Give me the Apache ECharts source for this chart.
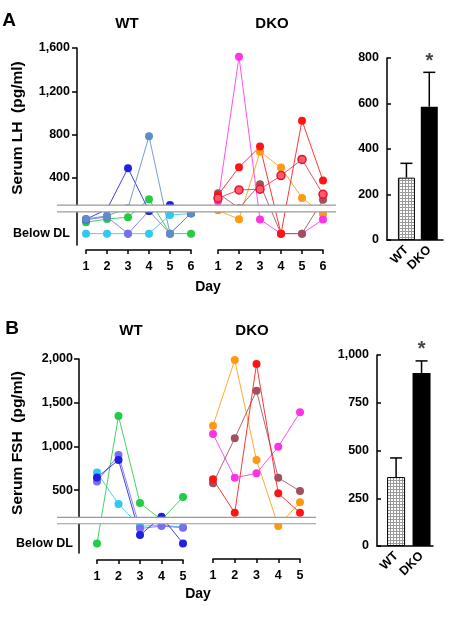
<!DOCTYPE html>
<html>
<head>
<meta charset="utf-8">
<script src="https://cdn.jsdelivr.net/npm/echarts@6/dist/echarts.min.js"></script>
<style>
html, body { margin: 0; padding: 0; background: #fff; }
#chart { width: 449px; height: 628px; }
</style>
</head>
<body>
<div id="chart"></div>
<script>
// values below the detection limit are plotted on the "Below DL" row
var BDL_LH = -115;
var BDL_FSH = -110;

var daysLH = ['1', '2', '3', '4', '5', '6'];
var daysFSH = ['1', '2', '3', '4', '5'];
var barGroups = ['WT', 'DKO'];

// A: serum LH, WT mice
var lhWtBlue = [18, 110, 490, 95, 150, 74];
var lhWtSteel = [20, 50, 120, 785, BDL_LH, 74];
var lhWtGreen = [-10, 20, 37, 203, BDL_LH, BDL_LH];
var lhWtCyan = [BDL_LH, BDL_LH, BDL_LH, BDL_LH, 58, 70];
var lhWtLav = [12, 40, BDL_LH, 95, BDL_LH, 74];

// A: serum LH, DKO mice
var lhKoMagenta = [185, 1519, 16, BDL_LH, BDL_LH, 16];
var lhKoRed = [240, 498, 689, BDL_LH, 929, 375];
var lhKoRing = [212, 289, 295, 421, 571, 248];
var lhKoOrange = [100, 18, 642, 495, 215, 67];
var lhKoBrown = [259, 120, 341, BDL_LH, BDL_LH, 197];

// B: serum FSH, WT mice
var fshWtCyan = [700, 340, 85, 100, 75];
var fshWtBlue = [644, 844, -15, 195, BDL_FSH];
var fshWtLav = [598, 901, 60, 88, 69];
var fshWtGreen = [BDL_FSH, 1348, 351, 160, 420];

// B: serum FSH, DKO mice
var fshKoOrange = [1237, 1989, 844, 90, 360];
var fshKoMagenta = [1142, 641, 692, 996, 1390];
var fshKoRed = [623, 240, 1943, 463, 240];
var fshKoBrown = [577, 1092, 1637, 641, 489];

// mean and mean + error
var lhBarMean = [274, 586];
var lhBarErr = [337, 737];
var fshBarMean = [361, 906];
var fshBarErr = [461, 969];

// axis break band (value range hidden by the white strip)
var lhBreak = [148, 86];
var fshBreak = [188, 115];

var FONT = "'Liberation Sans', Arial, Helvetica, sans-serif";

var chart = echarts.init(document.getElementById('chart'));

// fine grey grid for the WT bars
var pat = document.createElement('canvas');
pat.width = 3; pat.height = 3;
var pctx = pat.getContext('2d');
pctx.fillStyle = '#fff'; pctx.fillRect(0, 0, 3, 3);
pctx.fillStyle = '#9a9a9a'; pctx.fillRect(0, 0, 3, 1); pctx.fillRect(0, 0, 1, 3);
var hatch = { image: pat, repeat: 'repeat' };

function line(data, color, idx, ring) {
    return {
        type: 'line', xAxisIndex: idx, yAxisIndex: idx, data: data,
        symbol: 'circle', symbolSize: 8, showAllSymbol: true, connectNulls: true,
        lineStyle: { color: color, width: 1, opacity: 0.85 },
        itemStyle: ring ? { color: '#ff5a6e', borderColor: '#e8102a', borderWidth: 1.5 } : { color: color },
        emphasis: { disabled: true }, z: 3
    };
}

function lineY(grid, min, max, ticks, bdl, offset, margin, show) {
    return {
        type: 'value', gridIndex: grid, min: min, max: max, offset: offset, show: show,
        splitLine: { show: false },
        axisLine: { show: true, onZero: false, lineStyle: { color: '#000', width: 1.5 } },
        axisTick: { show: true, length: 5, customValues: ticks, lineStyle: { color: '#000', width: 1.5 } },
        axisLabel: {
            customValues: [bdl].concat(ticks), margin: margin, color: '#000',
            fontFamily: FONT, fontWeight: 'bold', fontSize: 12.5,
            formatter: function (v) { return v < 0 ? 'Below DL' : echarts.format.addCommas(v); }
        }
    };
}

function dayX(grid, days, offset) {
    return {
        type: 'category', gridIndex: grid, data: days, boundaryGap: false, offset: offset,
        axisLine: { onZero: false, lineStyle: { color: '#000', width: 1.5 } },
        axisTick: { show: true, length: 4, interval: 0, lineStyle: { color: '#000', width: 1.5 } },
        axisLabel: { interval: 0, margin: 10, color: '#000', fontFamily: FONT, fontWeight: 'bold', fontSize: 12.5 },
        splitLine: { show: false }
    };
}

function barX(grid, min, max) {
    return {
        type: 'value', gridIndex: grid, min: min, max: max,
        axisLine: { show: true, onZero: false, lineStyle: { color: '#000', width: 1.5 } },
        axisTick: { show: false }, splitLine: { show: false },
        axisLabel: {
            customValues: [0, 1], rotate: 45, margin: 8, color: '#000',
            fontFamily: FONT, fontWeight: 'bold', fontSize: 12.5,
            formatter: function (v) { return barGroups[v]; }
        }
    };
}

function barY(grid, max, interval) {
    return {
        type: 'value', gridIndex: grid, min: 0, max: max, interval: interval,
        splitLine: { show: false },
        axisLine: { show: true, onZero: false, lineStyle: { color: '#000', width: 1.5 } },
        axisTick: { show: true, inside: true, length: 4, lineStyle: { color: '#000', width: 1.5 } },
        axisLabel: {
            margin: 8, color: '#000', fontFamily: FONT, fontWeight: 'bold', fontSize: 12.5,
            formatter: function (v) { return echarts.format.addCommas(v); }
        }
    };
}

function bars(idx, means, width) {
    return {
        type: 'bar', xAxisIndex: idx, yAxisIndex: idx, barWidth: width,
        data: [
            { value: [0, means[0]], itemStyle: { color: hatch, borderColor: '#000', borderWidth: 1 } },
            { value: [1, means[1]], itemStyle: { color: '#000' } }
        ],
        emphasis: { disabled: true }
    };
}

function errItem(params, api) {
    var x = api.value(0);
    var lo = api.coord([x, api.value(1)]);
    var hi = api.coord([x, api.value(2)]);
    var half = 6;
    var kids = [
        { type: 'line', shape: { x1: lo[0], y1: lo[1], x2: hi[0], y2: hi[1] }, style: { stroke: '#000', lineWidth: 1.5 } },
        { type: 'line', shape: { x1: hi[0] - half, y1: hi[1], x2: hi[0] + half, y2: hi[1] }, style: { stroke: '#000', lineWidth: 1.5 } }
    ];
    if (api.value(3)) {
        kids.push({
            type: 'text', x: hi[0], y: hi[1] - 1,
            style: { text: '*', font: 'bold 20px ' + FONT, fill: '#444', align: 'center', verticalAlign: 'bottom', textAlign: 'center', textVerticalAlign: 'bottom' }
        });
    }
    return { type: 'group', children: kids };
}

function errs(idx, means, tops) {
    return {
        type: 'custom', xAxisIndex: idx, yAxisIndex: idx, renderItem: errItem, z: 5,
        data: [[0, means[0], tops[0], 0], [1, means[1], tops[1], 1]]
    };
}

var option = {
    animation: false,
    grid: [
        { left: 86, top: 48, width: 105, height: 197 },
        { left: 218, top: 48, width: 105, height: 197 },
        { left: 387, top: 58, width: 56, height: 182 },
        { left: 97, top: 359, width: 86, height: 194 },
        { left: 213, top: 359, width: 87, height: 194 },
        { left: 377, top: 355, width: 56, height: 191 }
    ],
    xAxis: [
        dayX(0, daysLH, 5),
        dayX(1, daysLH, 5),
        barX(2, -0.85, 1.6),
        dayX(3, daysFSH, 7),
        dayX(4, daysFSH, 6),
        barX(5, -0.75, 1.45)
    ],
    yAxis: [
        lineY(0, -220, 1600, [400, 800, 1200, 1600], BDL_LH, 9, 7, true),
        lineY(1, -220, 1600, [400, 800, 1200, 1600], BDL_LH, 0, 7, false),
        barY(2, 800, 200),
        lineY(3, -220, 2000, [500, 1000, 1500, 2000], BDL_FSH, 18, 6, true),
        lineY(4, -220, 2000, [500, 1000, 1500, 2000], BDL_FSH, 0, 6, false),
        barY(5, 1000, 250)
    ],
    series: [
        line(lhWtCyan, '#2fc8f0', 0),
        line(lhWtGreen, '#22cc44', 0),
        line(lhWtLav, '#7b6cf0', 0),
        line(lhWtBlue, '#2020e0', 0),
        line(lhWtSteel, '#5f8cc8', 0),

        line(lhKoOrange, '#ff9a10', 1),
        line(lhKoMagenta, '#ff33e6', 1),
        line(lhKoBrown, '#a0505e', 1),
        line(lhKoRed, '#ff1414', 1),
        line(lhKoRing, '#ee3050', 1, true),

        bars(2, lhBarMean, 17),
        errs(2, lhBarMean, lhBarErr),

        line(fshWtCyan, '#2fc8f0', 3),
        line(fshWtGreen, '#22cc44', 3),
        line(fshWtLav, '#7b6cf0', 3),
        line(fshWtBlue, '#2020e0', 3),

        line(fshKoOrange, '#ff9a10', 4),
        line(fshKoMagenta, '#ff33e6', 4),
        line(fshKoBrown, '#a0505e', 4),
        line(fshKoRed, '#ff1414', 4),

        bars(5, fshBarMean, 18),
        errs(5, fshBarMean, fshBarErr)
    ]
};
chart.setOption(option);

function txt(x, y, s, size, rot) {
    return {
        type: 'text', x: x, y: y, rotation: rot || 0, z: 100,
        style: { text: s, font: 'bold ' + size + 'px ' + FONT, fill: '#000', textAlign: 'center', textVerticalAlign: 'middle' }
    };
}

function band(axis, range, x1, x2) {
    var y1 = chart.convertToPixel({ yAxisIndex: axis }, range[0]);
    var y2 = chart.convertToPixel({ yAxisIndex: axis }, range[1]);
    return [
        { type: 'rect', z: 90, shape: { x: x1, y: y1, width: x2 - x1, height: y2 - y1 }, style: { fill: '#fff' } },
        { type: 'line', z: 91, shape: { x1: x1, y1: y1, x2: x2, y2: y1 }, style: { stroke: '#999', lineWidth: 1.2 } },
        { type: 'line', z: 91, shape: { x1: x1, y1: y2, x2: x2, y2: y2 }, style: { stroke: '#999', lineWidth: 1.2 } }
    ];
}

var marks = [
    txt(9, 21, 'A', 19),
    txt(127, 24, 'WT', 15),
    txt(272, 24, 'DKO', 15),
    txt(17.5, 128, 'Serum LH  (pg/ml)', 15.5, Math.PI / 2),
    txt(208, 287, 'Day', 14),
    txt(12, 329, 'B', 19),
    txt(131, 331, 'WT', 15),
    txt(252, 331, 'DKO', 15),
    txt(17.5, 443, 'Serum FSH  (pg/ml)', 15.5, Math.PI / 2),
    txt(198, 594, 'Day', 14)
].concat(band(0, lhBreak, 57, 336), band(3, fshBreak, 57, 316));

chart.setOption({ graphic: { elements: marks } });
</script>
</body>
</html>
